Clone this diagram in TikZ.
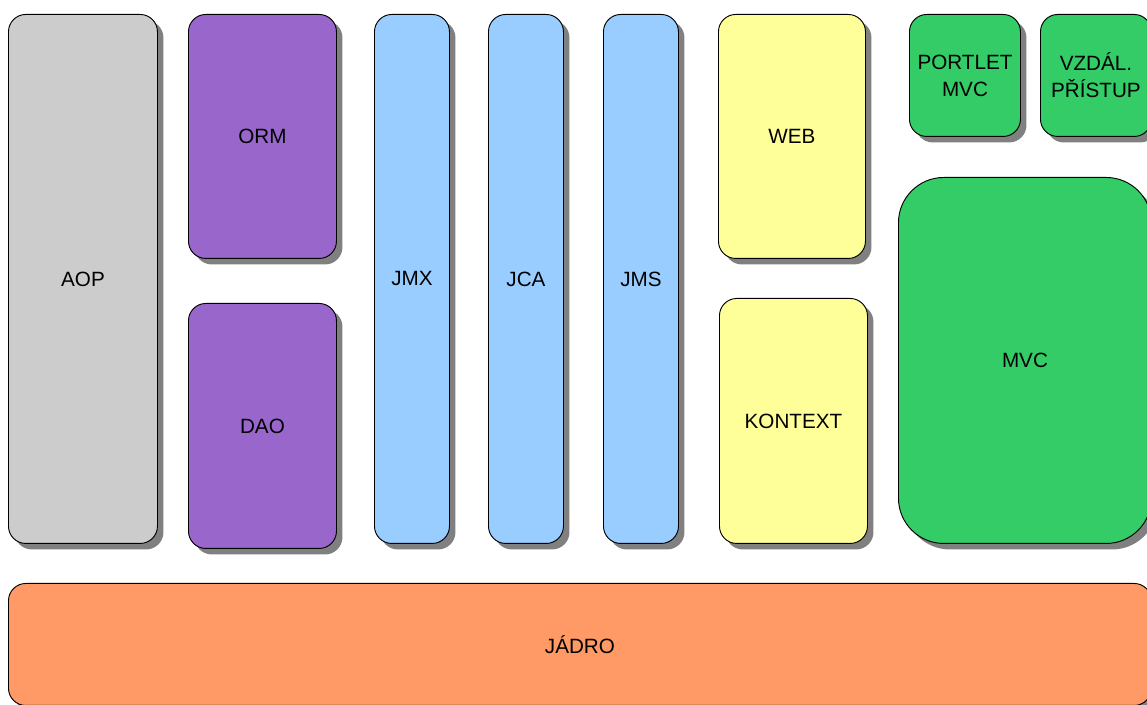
\documentclass[tikz,border=0pt]{standalone}
\usepackage{fontspec}
\setmainfont{Liberation Sans}
\usepackage{xcolor}
\usepackage{tikz}
\usetikzlibrary{shadows}

\definecolor{sediva}{HTML}{CCCCCC}
\definecolor{fialova}{HTML}{9966CC}
\definecolor{modra}{HTML}{99CCFF}
\definecolor{zluta}{HTML}{FFFF99}
\definecolor{zelena}{HTML}{33CC66}
\definecolor{oranzova}{HTML}{FF9966}

\begin{document}
\begin{tikzpicture} [x = 0.75pt, y = -0.75pt, font=\fontsize{15.5}{20.25}\selectfont,
		blok/.style = {draw = black, line width = 0.7pt, rounded corners = 13pt, anchor = north west,
		inner sep = 0pt, align = center, drop shadow = {shadow xshift = 4.5pt, shadow yshift = -4.5pt,
		fill = black!50, opacity = 1}},
		rozmer/.style 2 args = {minimum width = #1*0.75pt, minimum height = #2*0.75pt}]
		% Page frame
		\useasboundingbox (0,0) rectangle (1147,705);
		\clip (0,0) rectangle (1147,705);

		% Left column
		\node (aop) [blok, fill = sediva, rozmer = {149}{529}] at (8,14) {AOP};

		% Data access
		\node (orm) [blok, fill = fialova, rozmer = {148}{244}] at (188,14) {ORM};
		\node (dao) [blok, fill = fialova, rozmer = {148}{245}] at (188,303) {DAO};

		% Integration
		\node (jmx) [blok, fill = modra, rozmer = {75}{529}] at (374,14) {JMX};
		\node (jca) [blok, fill = modra, rozmer = {75}{529}] at (488,14) {JCA};
		\node (jms) [blok, fill = modra, rozmer = {75}{529}] at (603,14) {JMS};

		% Web and context
		\node (web) [blok, fill = zluta, rozmer = {147}{244}] at (718,14) {WEB};
		\node (kontext) [blok, fill = zluta, rozmer = {148}{245}] at (719,298) {KONTEXT};

		% Right column
		\node (portlet) [blok, fill = zelena, rozmer = {111}{122}] at (909,14) {PORTLET\\MVC};
		\node (vzdal) [blok, fill = zelena, rozmer = {111}{122}] at (1040,14) {VZDÁL.\\PŘÍSTUP};
		\node (mvc) [blok, fill = zelena, rozmer = {253}{366}, rounded corners = 34pt] at (898,177) {MVC};

		% Core
		\node (jadro) [blok, fill = oranzova, rozmer = {1143}{122}] at (8,583) {JÁDRO};
	\end{tikzpicture}
\end{document}
